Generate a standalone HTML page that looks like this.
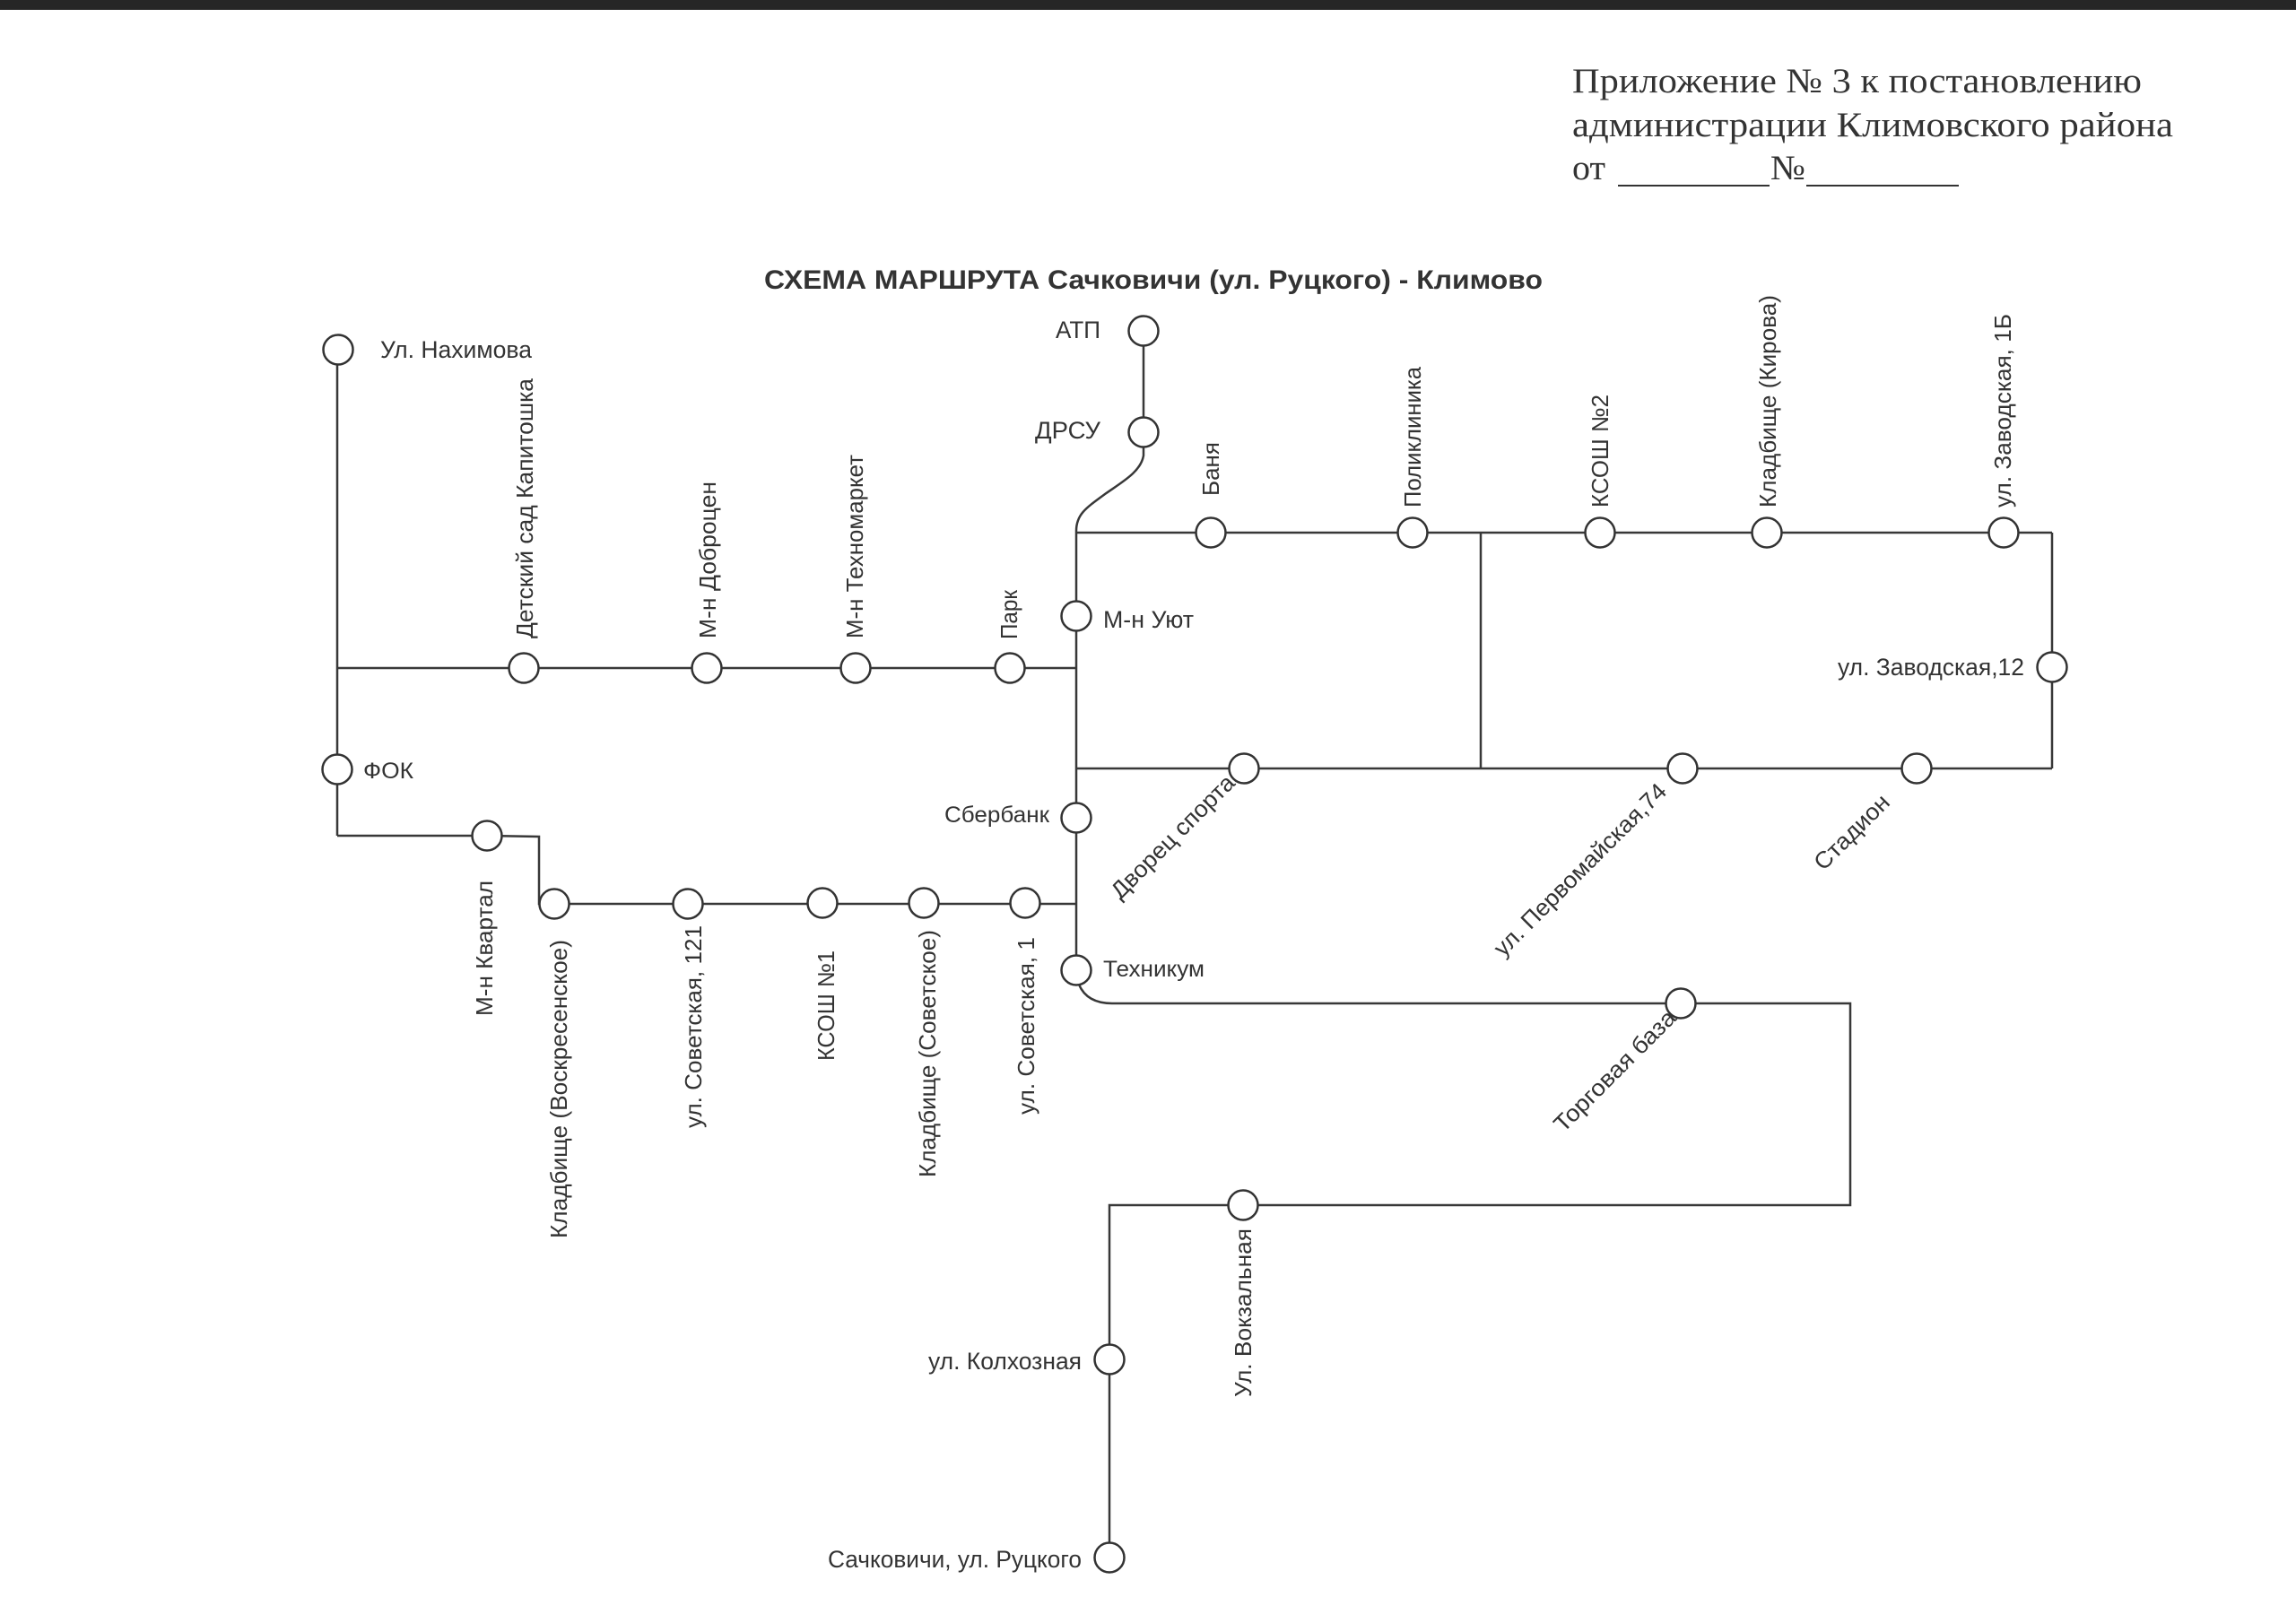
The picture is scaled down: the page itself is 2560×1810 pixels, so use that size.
<!DOCTYPE html>
<html>
<head>
<meta charset="utf-8">
<style>
html,body{margin:0;padding:0;background:#fff;}
svg{display:block;}
.l{font-family:"Liberation Sans",Arial,sans-serif;font-size:25px;fill:#333;}
.n{font-family:"Liberation Sans",Arial,sans-serif;font-size:27px;fill:#333;}
.r{font-family:"Liberation Sans",Arial,sans-serif;font-size:26px;fill:#333;}
.h{font-family:"Liberation Serif","Times New Roman",serif;font-size:39px;fill:#333;}
.t{font-family:"Liberation Sans",Arial,sans-serif;font-size:30px;font-weight:bold;fill:#333;}
</style>
</head>
<body>
<svg width="2560" height="1810" viewBox="0 0 2560 1810" xmlns="http://www.w3.org/2000/svg">
<rect x="0" y="0" width="2560" height="1810" fill="#ffffff"/>
<rect x="0" y="0" width="2560" height="11" fill="#262626"/>

<!-- header -->
<text class="h" x="1753" y="103" textLength="635" lengthAdjust="spacingAndGlyphs">Приложение № 3 к постановлению</text>
<text class="h" x="1753" y="152" textLength="670" lengthAdjust="spacingAndGlyphs">администрации Климовского района</text>
<text class="h" x="1753" y="200" textLength="37" lengthAdjust="spacingAndGlyphs">от</text>
<line x1="1804" y1="207" x2="1973" y2="207" stroke="#333" stroke-width="2"/>
<text class="h" x="1974" y="200" textLength="39" lengthAdjust="spacingAndGlyphs">№</text>
<line x1="2014" y1="207" x2="2184" y2="207" stroke="#333" stroke-width="2"/>

<!-- title -->
<text class="t" x="852" y="322" textLength="868" lengthAdjust="spacingAndGlyphs">СХЕМА МАРШРУТА Сачковичи (ул. Руцкого) - Климово</text>

<!-- lines -->
<g stroke="#383838" stroke-width="2.5" fill="none">
<line x1="376" y1="390" x2="376" y2="932"/>
<line x1="376" y1="745" x2="1200" y2="745"/>
<polyline points="376,932 543,932 601,933 601,1008 1200,1008"/>
<line x1="1275" y1="369" x2="1275" y2="482"/>
<path d="M1275,499 L1275,508 C1272,526 1252,537 1232,551 C1210,567 1200,574 1200,592 L1200,1082"/>
<line x1="1200" y1="594" x2="2288" y2="594"/>
<line x1="1651" y1="594" x2="1651" y2="857"/>
<line x1="2288" y1="594" x2="2288" y2="857"/>
<line x1="1200" y1="857" x2="2288" y2="857"/>
<path d="M1203,1098 Q1212,1119 1240,1119 L2063,1119 L2063,1344 L1237,1344 L1237,1737"/>
</g>

<!-- circles -->
<g fill="#fff" stroke="#333" stroke-width="2.5">
<circle cx="377" cy="390" r="16.5"/>
<circle cx="376" cy="858" r="16.5"/>
<circle cx="543" cy="932" r="16.5"/>
<circle cx="618" cy="1008" r="16.5"/>
<circle cx="767" cy="1008" r="16.5"/>
<circle cx="917" cy="1007" r="16.5"/>
<circle cx="1030" cy="1007" r="16.5"/>
<circle cx="1143" cy="1007" r="16.5"/>
<circle cx="584" cy="745" r="16.5"/>
<circle cx="788" cy="745" r="16.5"/>
<circle cx="954" cy="745" r="16.5"/>
<circle cx="1126" cy="745" r="16.5"/>
<circle cx="1275" cy="369" r="16.5"/>
<circle cx="1275" cy="482" r="16.5"/>
<circle cx="1200" cy="687" r="16.5"/>
<circle cx="1200" cy="912" r="16.5"/>
<circle cx="1200" cy="1082" r="16.5"/>
<circle cx="1350" cy="594" r="16.5"/>
<circle cx="1575" cy="594" r="16.5"/>
<circle cx="1784" cy="594" r="16.5"/>
<circle cx="1970" cy="594" r="16.5"/>
<circle cx="2234" cy="594" r="16.5"/>
<circle cx="2288" cy="744" r="16.5"/>
<circle cx="1387" cy="857" r="16.5"/>
<circle cx="1876" cy="857" r="16.5"/>
<circle cx="2137" cy="857" r="16.5"/>
<circle cx="1874" cy="1119" r="16.5"/>
<circle cx="1386" cy="1344" r="16.5"/>
<circle cx="1237" cy="1516" r="16.5"/>
<circle cx="1237" cy="1737" r="16.5"/>
</g>

<!-- horizontal labels -->
<text class="n" x="424" y="399" textLength="169" lengthAdjust="spacingAndGlyphs">Ул. Нахимова</text>
<text class="n" x="1177" y="377" textLength="50" lengthAdjust="spacingAndGlyphs">АТП</text>
<text class="n" x="1154" y="489" textLength="73" lengthAdjust="spacingAndGlyphs">ДРСУ</text>
<text class="n" x="1230" y="700" textLength="101" lengthAdjust="spacingAndGlyphs">М-н Уют</text>
<text class="n" x="2049" y="753" textLength="208" lengthAdjust="spacingAndGlyphs">ул. Заводская,12</text>
<text class="l" x="405" y="868" textLength="56" lengthAdjust="spacingAndGlyphs">ФОК</text>
<text class="l" x="1053" y="917" textLength="117" lengthAdjust="spacingAndGlyphs">Сбербанк</text>
<text class="l" x="1230" y="1089" textLength="113" lengthAdjust="spacingAndGlyphs">Техникум</text>
<text class="n" x="1035" y="1527" textLength="171" lengthAdjust="spacingAndGlyphs">ул. Колхозная</text>
<text class="n" x="923" y="1748" textLength="283" lengthAdjust="spacingAndGlyphs">Сачковичи, ул. Руцкого</text>

<!-- vertical labels above -->
<text class="r" transform="translate(594,712) rotate(-90)" textLength="290" lengthAdjust="spacingAndGlyphs">Детский сад Капитошка</text>
<text class="r" transform="translate(798,712) rotate(-90)" textLength="175" lengthAdjust="spacingAndGlyphs">М-н Доброцен</text>
<text class="r" transform="translate(962,712) rotate(-90)" textLength="205" lengthAdjust="spacingAndGlyphs">М-н Техномаркет</text>
<text class="r" transform="translate(1134,713) rotate(-90)" textLength="55" lengthAdjust="spacingAndGlyphs">Парк</text>
<text class="r" transform="translate(1359,553) rotate(-90)" textLength="60" lengthAdjust="spacingAndGlyphs">Баня</text>
<text class="r" transform="translate(1584,566) rotate(-90)" textLength="157" lengthAdjust="spacingAndGlyphs">Поликлиника</text>
<text class="r" transform="translate(1793,566) rotate(-90)" textLength="126" lengthAdjust="spacingAndGlyphs">КСОШ №2</text>
<text class="r" transform="translate(1980,566) rotate(-90)" textLength="237" lengthAdjust="spacingAndGlyphs">Кладбище (Кирова)</text>
<text class="r" transform="translate(2242,566) rotate(-90)" textLength="216" lengthAdjust="spacingAndGlyphs">ул. Заводская, 1Б</text>

<!-- vertical labels below -->
<text class="r" transform="translate(549,1133) rotate(-90)" textLength="151" lengthAdjust="spacingAndGlyphs">М-н Квартал</text>
<text class="r" transform="translate(632,1381) rotate(-90)" textLength="333" lengthAdjust="spacingAndGlyphs">Кладбище (Воскресенское)</text>
<text class="r" transform="translate(782,1258) rotate(-90)" textLength="226" lengthAdjust="spacingAndGlyphs">ул. Советская, 121</text>
<text class="r" transform="translate(930,1183) rotate(-90)" textLength="123" lengthAdjust="spacingAndGlyphs">КСОШ №1</text>
<text class="r" transform="translate(1043,1313) rotate(-90)" textLength="276" lengthAdjust="spacingAndGlyphs">Кладбище (Советское)</text>
<text class="r" transform="translate(1153,1243) rotate(-90)" textLength="198" lengthAdjust="spacingAndGlyphs">ул. Советская, 1</text>
<text class="r" transform="translate(1395,1558) rotate(-90)" textLength="188" lengthAdjust="spacingAndGlyphs">Ул. Вокзальная</text>

<!-- diagonal labels -->
<text class="r" transform="translate(1249,1004) rotate(-45)" textLength="183" lengthAdjust="spacingAndGlyphs">Дворец спорта</text>
<text class="r" transform="translate(1676,1068) rotate(-45)" textLength="260" lengthAdjust="spacingAndGlyphs">ул. Первомайская,74</text>
<text class="r" transform="translate(2033,972) rotate(-45)" textLength="107" lengthAdjust="spacingAndGlyphs">Стадион</text>
<text class="r" transform="translate(1743,1264) rotate(-45)" textLength="180" lengthAdjust="spacingAndGlyphs">Торговая база</text>
</svg>
</body>
</html>
